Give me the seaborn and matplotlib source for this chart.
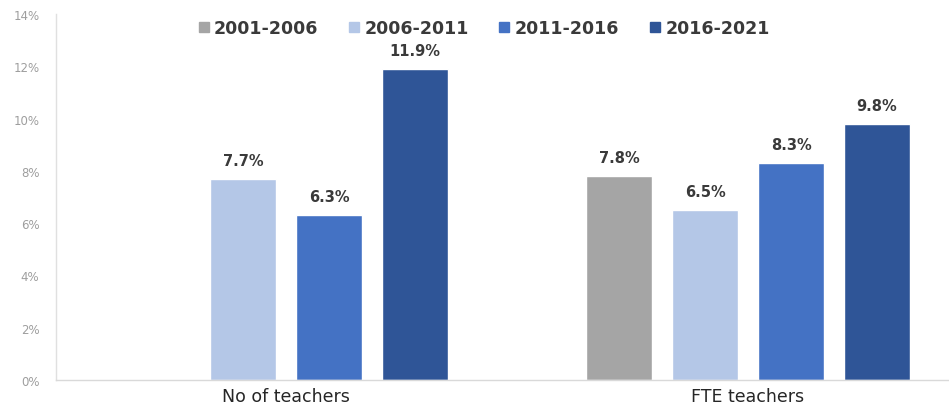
import numpy as np
import pandas as pd
import seaborn as sns
import matplotlib.pyplot as plt
from matplotlib.lines import Line2D
from matplotlib.ticker import FuncFormatter

categories = ["No of teachers", "FTE teachers"]
periods = ["2001-2006", "2006-2011", "2011-2016", "2016-2021"]
growth_2001_2006 = [np.nan, 7.8]
growth_2006_2011 = [7.7, 6.5]
growth_2011_2016 = [6.3, 8.3]
growth_2016_2021 = [11.9, 9.8]
y_ticks = [0, 2, 4, 6, 8, 10, 12, 14]

colors = ["#A5A5A5", "#B4C7E7", "#4472C4", "#2F5597"]

series = [growth_2001_2006, growth_2006_2011, growth_2011_2016, growth_2016_2021]
rows = []
for period, values in zip(periods, series):
    for cat, v in zip(categories, values):
        rows.append({"category": cat, "period": period, "growth": v})
df = pd.DataFrame(rows)

sns.set_theme(style="white")
plt.rcParams["font.family"] = ["DejaVu Sans"]

fig = plt.figure(figsize=(9.49, 4.14), dpi=100)
ax = fig.add_axes([56 / 949, 33 / 414, 1 - 56 / 949, 366 / 414])

sns.barplot(data=df.dropna(), x="category", y="growth", hue="period",
            order=categories, hue_order=periods, palette=colors,
            width=0.745, gap=0.23, saturation=1, ax=ax, legend=False)

for container in ax.containers:
    ax.bar_label(container, fmt="%.1f%%", padding=8, fontsize=10.5,
                 color="#3A3A3A", fontweight="bold")

ax.set_ylim(0, 14)
ax.set_xlim(-0.498, 1.435)
ax.set_yticks(y_ticks)
ax.yaxis.set_major_formatter(FuncFormatter(lambda v, _: f"{v:.0f}%"))
ax.tick_params(axis="y", labelsize=8.5, colors="#9E9E9E", length=3,
               direction="in", pad=12)
ax.tick_params(axis="x", labelsize=12.5, colors="#262626", length=0, pad=5)
ax.set_xlabel("")
ax.set_ylabel("")

for side in ["top", "right"]:
    ax.spines[side].set_visible(False)
ax.spines["left"].set_color("#E0E0E0")
ax.spines["bottom"].set_color("#D9D9D9")
ax.spines["left"].set_linewidth(1)
ax.spines["bottom"].set_linewidth(1)

handles = [Line2D([0], [0], marker="s", linestyle="", markersize=6.5,
                  markerfacecolor=c, markeredgecolor=c) for c in colors]
leg = fig.legend(handles, periods, loc="center", bbox_to_anchor=(484 / 949, 1 - 29 / 414),
                 ncol=4, frameon=False, fontsize=12.5, handletextpad=0.3,
                 columnspacing=1.75, handlelength=0.6, borderpad=0, borderaxespad=0)
for t in leg.get_texts():
    t.set_color("#3A3A3A")
    t.set_fontweight("bold")

fig.savefig("out.png", dpi=100)
